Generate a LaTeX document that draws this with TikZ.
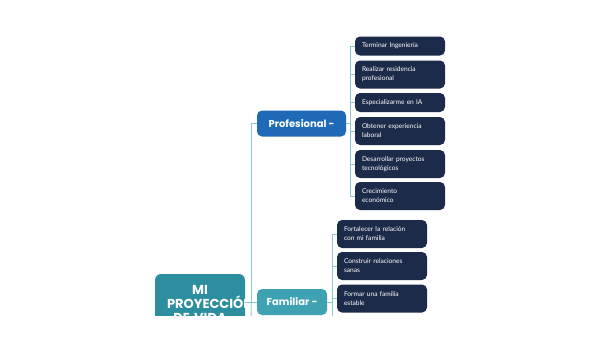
\documentclass[tikz,border=0pt]{standalone}
\usepackage{fontspec}
\setmainfont{Poppins}
\newfontfamily\leaffont{Lato}
\usetikzlibrary{positioning}
\definecolor{rootc}{RGB}{44,142,158}
\definecolor{profc}{RGB}{30,106,182}
\definecolor{famc}{RGB}{62,162,178}
\definecolor{leafc}{RGB}{29,43,74}
\definecolor{linkc}{RGB}{140,198,210}

\begin{document}
\begin{tikzpicture}[
  x=1pt, y=-1pt,
  every node/.style={font=\small},
  branch/.style={rounded corners=5pt, text=white, align=center,
                 font=\bfseries\fontsize{10}{11}\selectfont, minimum height=26pt},
  leaf/.style={fill=leafc, rounded corners=5pt, text=white, align=left,
               font=\leaffont\fontsize{6.6}{9}\selectfont,
               text width=76pt, inner xsep=7pt, inner ysep=0pt, minimum height=19pt},
  leaftwo/.style={leaf, minimum height=28pt},
  link/.style={draw=linkc, line width=0.8pt}
]
\useasboundingbox (0,0) rectangle (600,338);

\begin{scope}
\clip (0,0) rectangle (600,315);

% ── Root ──
\node[fill=rootc, rounded corners=6pt, minimum width=90pt, minimum height=56pt,
  path picture={\node[text=white, font=\bfseries\fontsize{13}{14}\selectfont,
    text width=66pt, align=center, yshift=-2pt] at (path picture bounding box.center)
    {MI\\PROYECCIÓN\\DE VIDA};}] (root) at (200,302) {};

% ── Branches ──
\node[branch, fill=profc, minimum width=89pt] (prof) at (301.5,123.5) {Profesional -};
\node[branch, fill=famc, minimum width=70pt] (fam) at (292,302) {Familiar -};

% ── Profesional ──
\node[leaf]    (p1) at (400,46)  {Terminar Ingeniería};
\node[leaftwo] (p2) at (400,74.5) {Realizar residencia\\profesional};
\node[leaf]    (p3) at (400,102.5) {Especializarme en IA};
\node[leaftwo] (p4) at (400,131) {Obtener experiencia\\laboral};
\node[leaftwo] (p5) at (400,164) {Desarrollar proyectos\\tecnológicos};
\node[leaftwo] (p6) at (400,196) {Crecimiento\\económico};

% ── Familiar ──
\node[leaftwo] (f1) at (382,234) {Fortalecer la relación\\con mi familia};
\node[leaftwo] (f2) at (382,266) {Construir relaciones\\sanas};
\node[leaftwo] (f3) at (382,298.5) {Formar una familia\\estable};

% ── Links ──
\coordinate (trunkend) at (251,340);
\draw[link] (root.east) -- ++(6,0) coordinate (trunk);
\draw[link] (trunk) |- (prof.west);
\draw[link] (trunk) -- (fam.west);
\draw[link] (trunk) -- (trunkend);

\foreach \n in {p1,p2,p3,p4,p5,p6}
  \draw[link] (prof.east) -- ++(4,0) |- (\n.west);

\foreach \n in {f1,f2,f3}
  \draw[link] (fam.east) -- ++(5,0) |- (\n.west);
\draw[link] (fam.east) -- ++(5,0) -- ++(0,40);

\end{scope}
\end{tikzpicture}
\end{document}
